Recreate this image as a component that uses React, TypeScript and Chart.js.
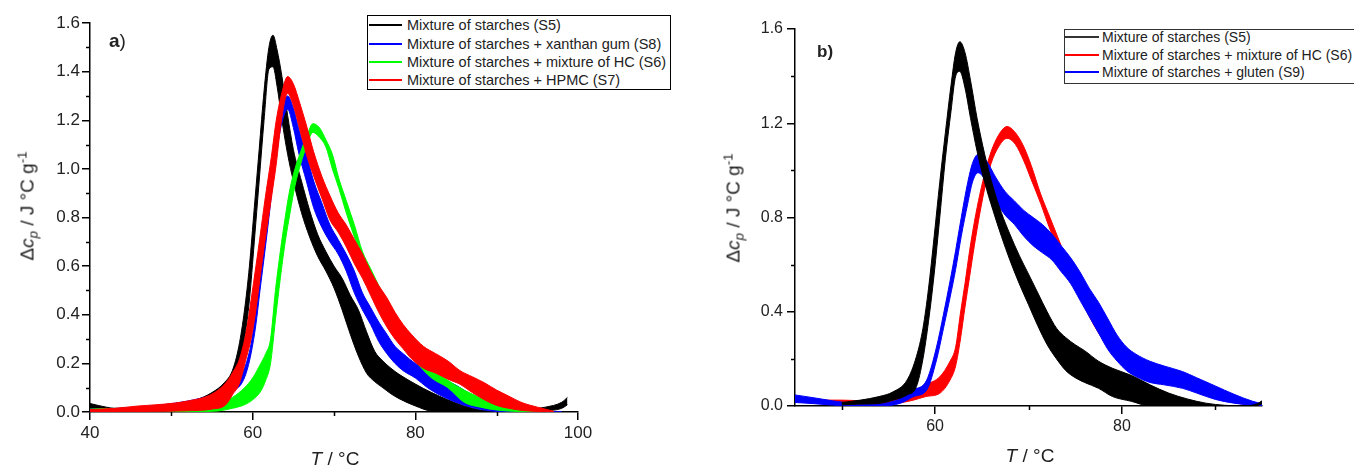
import React, { useEffect, useRef } from "react";
import { Chart, registerables } from "chart.js";

Chart.register(...registerables);

// ---------------- Panel a) data ----------------
const A_S5_T = [40, 42, 44, 47, 50, 53, 55, 56.5, 57.5, 58.3, 59, 59.6, 60.2, 60.8, 61.4, 62, 62.5, 63, 63.6, 64.3, 65, 66, 67, 68, 69, 70, 71, 72, 73, 74, 75, 76, 77, 78, 80, 82, 84, 86, 88, 90, 92, 94, 96, 98, 98.7];
const A_S5_HI = [0.035, 0.02, 0.012, 0.015, 0.03, 0.05, 0.08, 0.12, 0.17, 0.27, 0.42, 0.6, 0.84, 1.08, 1.32, 1.5, 1.55, 1.49, 1.38, 1.22, 1.08, 0.95, 0.83, 0.73, 0.66, 0.6, 0.55, 0.48, 0.42, 0.33, 0.25, 0.21, 0.18, 0.155, 0.115, 0.08, 0.05, 0.025, 0.008, 0.002, 0.002, 0.01, 0.02, 0.04, 0.06];
const A_S5_LO = [0.005, 0.005, 0.004, 0.008, 0.015, 0.03, 0.055, 0.085, 0.115, 0.17, 0.3, 0.46, 0.7, 0.95, 1.2, 1.41, 1.42, 1.34, 1.2, 1.06, 0.95, 0.82, 0.72, 0.64, 0.58, 0.51, 0.42, 0.32, 0.23, 0.16, 0.125, 0.1, 0.075, 0.055, 0.025, 0.003, 0, 0, 0, 0, 0, 0, 0.005, 0.015, 0.03];

const A_S8_T = [40, 43, 46, 49, 52, 55, 57, 58, 58.6, 59.2, 59.8, 60.4, 60.9, 61.5, 62, 62.5, 63, 63.6, 64.3, 65, 65.7, 66.6, 67.5, 68.5, 69.5, 70.5, 71.5, 72.5, 73.5, 74.5, 75.5, 76.5, 77.5, 78.5, 80, 81.5, 83, 85, 87, 89, 91, 93, 95, 98];
const A_S8_HI = [0.012, 0.015, 0.02, 0.03, 0.045, 0.07, 0.1, 0.12, 0.15, 0.2, 0.28, 0.42, 0.56, 0.72, 0.85, 1.0, 1.14, 1.25, 1.3, 1.25, 1.16, 1.06, 0.95, 0.86, 0.77, 0.71, 0.65, 0.58, 0.49, 0.43, 0.37, 0.32, 0.27, 0.24, 0.2, 0.175, 0.145, 0.11, 0.07, 0.04, 0.018, 0.008, 0.003, 0.0];
const A_S8_LO = [0.002, 0.005, 0.01, 0.015, 0.025, 0.045, 0.07, 0.095, 0.115, 0.16, 0.24, 0.36, 0.5, 0.66, 0.8, 0.95, 1.08, 1.19, 1.245, 1.17, 1.06, 0.95, 0.84, 0.76, 0.7, 0.65, 0.58, 0.49, 0.42, 0.36, 0.29, 0.24, 0.2, 0.17, 0.14, 0.1, 0.07, 0.04, 0.018, 0.006, 0, 0, 0, 0];

const A_S6_T = [40, 43, 46, 49, 52, 54, 55.7, 57.5, 59, 60, 61, 61.6, 62.2, 62.8, 63.4, 64, 64.6, 65.2, 65.9, 66.7, 67.4, 68.2, 69, 69.8, 70.6, 71.5, 72.5, 73.5, 74.5, 75.5, 76.5, 77.5, 78.5, 80, 82, 84, 86, 88, 90, 92, 94, 95.5];
const A_S6_HI = [0.012, 0.015, 0.015, 0.018, 0.02, 0.028, 0.038, 0.06, 0.1, 0.14, 0.2, 0.24, 0.3, 0.5, 0.66, 0.8, 0.92, 1.0, 1.07, 1.14, 1.186, 1.17, 1.12, 1.06, 0.96, 0.87, 0.77, 0.66, 0.59, 0.52, 0.45, 0.38, 0.32, 0.25, 0.18, 0.13, 0.09, 0.06, 0.045, 0.022, 0.008, 0];
const A_S6_LO = [0.004, 0.005, 0.005, 0.005, 0.0, 0.002, 0.004, 0.015, 0.03, 0.05, 0.086, 0.13, 0.2, 0.38, 0.55, 0.7, 0.82, 0.93, 1.02, 1.1, 1.15, 1.13, 1.09, 1.0, 0.92, 0.82, 0.72, 0.63, 0.55, 0.48, 0.41, 0.34, 0.28, 0.21, 0.14, 0.1, 0.04, 0.02, 0.008, 0.003, 0, 0];

const A_S7_T = [40, 43, 46, 49, 52, 55, 56.7, 57.5, 58.4, 59.2, 59.8, 60.4, 60.9, 61.5, 62.3, 62.9, 63.5, 64.3, 65, 65.8, 66.6, 67.5, 68.5, 69.5, 70.5, 71.5, 72.5, 73.5, 74.5, 75.5, 76.5, 77.5, 78.5, 79.5, 81, 82.5, 84, 85.5, 87, 88.5, 90, 91.5, 93, 95, 97];
const A_S7_HI = [0.01, 0.015, 0.025, 0.032, 0.045, 0.074, 0.12, 0.16, 0.22, 0.33, 0.46, 0.6, 0.72, 0.87, 1.05, 1.2, 1.3, 1.38, 1.35, 1.27, 1.18, 1.07, 0.97, 0.89, 0.82, 0.77, 0.71, 0.65, 0.58, 0.52, 0.47, 0.41, 0.36, 0.32, 0.27, 0.24, 0.21, 0.17, 0.145, 0.12, 0.09, 0.065, 0.04, 0.02, 0.003];
const A_S7_LO = [0, 0, 0.002, 0.003, 0.005, 0.012, 0.03, 0.07, 0.12, 0.22, 0.3, 0.42, 0.55, 0.7, 0.88, 1.02, 1.19, 1.31, 1.26, 1.16, 1.06, 0.97, 0.88, 0.79, 0.74, 0.68, 0.61, 0.55, 0.48, 0.41, 0.35, 0.3, 0.26, 0.22, 0.18, 0.16, 0.135, 0.114, 0.08, 0.05, 0.027, 0.015, 0.007, 0.002, 0];

// ---------------- Panel b) data ----------------
const B_S5_T = [50, 52, 54, 55.5, 57, 58, 58.7, 59.3, 59.9, 60.5, 61.1, 61.7, 62.2, 62.65, 63.2, 63.8, 64.5, 65.3, 66.2, 67.1, 68, 69, 70, 71, 72, 73, 74, 75, 76, 77.5, 79, 81, 83, 85, 87, 89, 91, 93, 94.5, 95];
const B_S5_HI = [0.015, 0.025, 0.04, 0.06, 0.11, 0.21, 0.33, 0.5, 0.72, 0.95, 1.16, 1.36, 1.5, 1.546, 1.5, 1.38, 1.22, 1.07, 0.93, 0.82, 0.73, 0.64, 0.56, 0.48, 0.4, 0.33, 0.29, 0.26, 0.235, 0.19, 0.16, 0.13, 0.09, 0.055, 0.03, 0.012, 0.003, 0.0, 0.01, 0.022];
const B_S5_LO = [0.005, 0.008, 0.011, 0.025, 0.047, 0.082, 0.2, 0.36, 0.56, 0.8, 1.05, 1.25, 1.4, 1.42, 1.35, 1.22, 1.08, 0.95, 0.83, 0.72, 0.62, 0.52, 0.43, 0.34, 0.26, 0.2, 0.15, 0.12, 0.1, 0.075, 0.04, 0.02, 0, 0, 0, 0, 0, 0, 0.002, 0.01];

const B_S6_T = [48, 50, 52, 53.5, 55, 56.5, 57.7, 59, 60.5, 61.6, 62.2, 62.7, 63.2, 63.7, 64.2, 64.8, 65.4, 66, 66.8, 67.7, 68.6, 69.5, 70.3, 71.3, 72.3, 73.5, 74.5, 75.5, 76.5, 77.5, 78.5, 79.5, 80.5, 82, 84, 86, 88, 90, 92, 94, 95];
const B_S6_HI = [0.025, 0.025, 0.022, 0.02, 0.03, 0.045, 0.06, 0.09, 0.124, 0.19, 0.25, 0.39, 0.52, 0.66, 0.78, 0.9, 1.0, 1.08, 1.15, 1.186, 1.16, 1.1, 1.02, 0.9, 0.8, 0.68, 0.58, 0.5, 0.42, 0.35, 0.29, 0.25, 0.22, 0.19, 0.17, 0.145, 0.11, 0.07, 0.04, 0.012, 0.005];
const B_S6_LO = [0.008, 0.006, 0.003, 0, 0.005, 0.015, 0.025, 0.04, 0.054, 0.11, 0.17, 0.28, 0.42, 0.55, 0.68, 0.82, 0.94, 1.03, 1.1, 1.136, 1.11, 1.04, 0.96, 0.86, 0.75, 0.64, 0.54, 0.46, 0.38, 0.31, 0.25, 0.2, 0.17, 0.14, 0.12, 0.1, 0.07, 0.04, 0.015, 0.003, 0];

const B_S9_T = [45, 47, 49, 51, 53, 55, 56.5, 57.7, 59.1, 60.15, 60.9, 61.6, 62.2, 62.8, 63.5, 64, 64.6, 65.5, 66.5, 67.5, 68.5, 69.5, 70.5, 71.5, 72.5, 73.5, 74.5, 75.5, 76.5, 77.5, 78.5, 79.5, 80.5, 81.5, 83, 84.5, 86.5, 88, 90, 92, 94, 95];
const B_S9_HI = [0.047, 0.035, 0.022, 0.012, 0.006, 0.015, 0.035, 0.068, 0.11, 0.25, 0.39, 0.53, 0.66, 0.8, 0.95, 1.03, 1.068, 1.04, 0.97, 0.91, 0.87, 0.83, 0.8, 0.77, 0.73, 0.68, 0.63, 0.57, 0.5, 0.44, 0.37, 0.3, 0.25, 0.22, 0.19, 0.17, 0.146, 0.12, 0.085, 0.05, 0.02, 0.01];
const B_S9_LO = [0.015, 0.01, 0.004, 0, 0, 0.002, 0.015, 0.04, 0.068, 0.195, 0.33, 0.46, 0.58, 0.72, 0.86, 0.95, 0.99, 0.95, 0.87, 0.81, 0.77, 0.72, 0.68, 0.65, 0.62, 0.57, 0.52, 0.45, 0.38, 0.31, 0.24, 0.19, 0.15, 0.125, 0.1, 0.09, 0.075, 0.055, 0.028, 0.012, 0.003, 0];

// ---------------- axes ----------------
const A_X_MAJOR = [40, 60, 80, 100];
const A_X_MINOR = [50, 70, 90];
const A_Y_MAJOR = [0, 0.2, 0.4, 0.6, 0.8, 1.0, 1.2, 1.4, 1.6];
const A_Y_MINOR = [0.1, 0.3, 0.5, 0.7, 0.9, 1.1, 1.3, 1.5];
const B_X_MAJOR = [60, 80];
const B_X_MINOR = [50, 70, 90];
const B_Y_MAJOR = [0, 0.4, 0.8, 1.2, 1.6];
const B_Y_MINOR = [0.2, 0.6, 1.0, 1.4];

const A_LEGEND = [
  { label: "Mixture of starches (S5)", color: "#000000" },
  { label: "Mixture of starches + xanthan gum (S8)", color: "#0000ff" },
  { label: "Mixture of starches + mixture of HC (S6)", color: "#00ff00" },
  { label: "Mixture of starches + HPMC (S7)", color: "#ff0000" },
];
const B_LEGEND = [
  { label: "Mixture of starches (S5)", color: "#333333" },
  { label: "Mixture of starches + mixture of HC (S6)", color: "#ff0000" },
  { label: "Mixture of starches + gluten (S9)", color: "#0000ff" },
];

const FONT = '"Liberation Sans", Arial, Helvetica, sans-serif';
const TEXT = "#222";

type Band = { T: number[]; hi: number[]; lo: number[]; color: string; layer: number };

const A_BANDS: Band[] = [
  { T: A_S5_T, hi: A_S5_HI, lo: A_S5_LO, color: "#000000", layer: 0 },
  { T: A_S8_T, hi: A_S8_HI, lo: A_S8_LO, color: "#0000ff", layer: 1 },
  { T: A_S6_T, hi: A_S6_HI, lo: A_S6_LO, color: "#00ff00", layer: 2 },
  { T: A_S7_T, hi: A_S7_HI, lo: A_S7_LO, color: "#ff0000", layer: 3 },
];
const B_BANDS: Band[] = [
  { T: B_S6_T, hi: B_S6_HI, lo: B_S6_LO, color: "#ff0000", layer: 0 },
  { T: B_S9_T, hi: B_S9_HI, lo: B_S9_LO, color: "#0000ff", layer: 1 },
  { T: B_S5_T, hi: B_S5_HI, lo: B_S5_LO, color: "#000000", layer: 2 },
];

function bandDatasets(bands: Band[]) {
  const ds: any[] = [];
  bands.forEach((b) => {
    const base = {
      borderColor: b.color,
      borderWidth: 1,
      pointRadius: 0,
      pointHoverRadius: 0,
      cubicInterpolationMode: "monotone",
      order: 20 - b.layer,
    };
    ds.push({ ...base, data: b.T.map((t, i) => ({ x: t, y: b.hi[i] })), fill: false });
    ds.push({
      ...base,
      data: b.T.map((t, i) => ({ x: t, y: b.lo[i] })),
      fill: "-1",
      backgroundColor: b.color,
    });
  });
  return ds;
}

const minorTicksPlugin = {
  id: "minorTicks",
  afterDraw(chart: any, _args: any, opts: any) {
    const { ctx } = chart;
    const xs = chart.scales.x;
    const ys = chart.scales.y;
    ctx.save();
    ctx.strokeStyle = "#000";
    ctx.lineWidth = 1.5;
    ctx.beginPath();
    (opts.x || []).forEach((v: number) => {
      const px = Math.round(xs.getPixelForValue(v)) + 0.5;
      ctx.moveTo(px, ys.bottom);
      ctx.lineTo(px, ys.bottom + opts.len);
    });
    (opts.y || []).forEach((v: number) => {
      const py = Math.round(ys.getPixelForValue(v)) + 0.5;
      ctx.moveTo(xs.left, py);
      ctx.lineTo(xs.left - opts.len, py);
    });
    ctx.stroke();
    ctx.restore();
  },
};

type PanelCfg = {
  width: number;
  height: number;
  area: { left: number; top: number; right: number; bottom: number };
  xMin: number;
  xMax: number;
  xMajor: number[];
  xMinor: number[];
  yMajor: number[];
  yMinor: number[];
  bands: Band[];
  tickSize: number;
  xPad: number;
  yPad: number;
};

function PanelChart({ cfg, left }: { cfg: PanelCfg; left: number }) {
  const ref = useRef<HTMLCanvasElement | null>(null);
  useEffect(() => {
    if (!ref.current) return;
    const { area } = cfg;
    const chart = new Chart(ref.current, {
      type: "line",
      data: { datasets: bandDatasets(cfg.bands) },
      plugins: [minorTicksPlugin as any],
      options: {
        responsive: false,
        animation: false,
        devicePixelRatio: 1,
        events: [],
        layout: { padding: { left: 0, top: area.top, right: cfg.width - area.right, bottom: 0 } },
        plugins: {
          legend: { display: false },
          tooltip: { enabled: false },
          minorTicks: { x: cfg.xMinor, y: cfg.yMinor, len: 4 },
        } as any,
        scales: {
          x: {
            type: "linear",
            min: cfg.xMin,
            max: cfg.xMax,
            afterFit: (s: any) => {
              s.height = cfg.height - area.bottom;
            },
            afterBuildTicks: (s: any) => {
              s.ticks = cfg.xMajor.map((v) => ({ value: v }));
            },
            ticks: {
              autoSkip: false,
              maxRotation: 0,
              padding: cfg.xPad,
              color: TEXT,
              font: { family: FONT, size: cfg.tickSize },
              callback: (v: any) => String(Math.round(Number(v))),
            },
            grid: { drawOnChartArea: false, drawTicks: true, tickLength: 8, color: "#000", lineWidth: 1.5 },
            border: { display: true, color: "#000", width: 1.5 },
          },
          y: {
            type: "linear",
            min: 0,
            max: 1.6,
            afterFit: (s: any) => {
              s.width = area.left;
            },
            afterBuildTicks: (s: any) => {
              s.ticks = cfg.yMajor.map((v) => ({ value: v }));
            },
            ticks: {
              autoSkip: false,
              padding: cfg.yPad,
              color: TEXT,
              font: { family: FONT, size: cfg.tickSize },
              callback: (v: any) => Number(v).toFixed(1),
            },
            grid: { drawOnChartArea: false, drawTicks: true, tickLength: 8, color: "#000", lineWidth: 1.5 },
            border: { display: true, color: "#000", width: 1.5 },
          },
        },
      } as any,
    });
    return () => chart.destroy();
  }, [cfg]);
  return (
    <canvas
      ref={ref}
      width={cfg.width}
      height={cfg.height}
      style={{ position: "absolute", left, top: 0, width: cfg.width, height: cfg.height }}
    />
  );
}

const A_CFG: PanelCfg = {
  width: 680,
  height: 470,
  area: { left: 90, top: 23, right: 578, bottom: 412 },
  xMin: 40,
  xMax: 100,
  xMajor: A_X_MAJOR,
  xMinor: A_X_MINOR,
  yMajor: A_Y_MAJOR,
  yMinor: A_Y_MINOR,
  bands: A_BANDS,
  tickSize: 17,
  xPad: 3,
  yPad: 2,
};

const B_CFG: PanelCfg = {
  width: 674,
  height: 470,
  area: { left: 115, top: 29, right: 582, bottom: 406 },
  xMin: 45,
  xMax: 95,
  xMajor: B_X_MAJOR,
  xMinor: B_X_MINOR,
  yMajor: B_Y_MAJOR,
  yMinor: B_Y_MINOR,
  bands: B_BANDS,
  tickSize: 16,
  xPad: 3,
  yPad: 4,
};

function YTitle({ cx, cy, size }: { cx: number; cy: number; size: number }) {
  return (
    <div
      style={{
        position: "absolute",
        left: cx,
        top: cy,
        transform: "translate(-50%, -50%) rotate(-90deg)",
        whiteSpace: "nowrap",
        fontSize: size,
        lineHeight: 1,
        color: TEXT,
      }}
    >
      Δ<i>c</i>
      <span style={{ fontSize: "0.7em", position: "relative", top: "0.3em" }}>
        <i>p</i>
      </span>{" "}
      / J °C g
      <span style={{ fontSize: "0.7em", position: "relative", top: "-0.55em" }}>-1</span>
    </div>
  );
}

function XTitle({ cx, cy, size }: { cx: number; cy: number; size: number }) {
  return (
    <div
      style={{
        position: "absolute",
        left: cx,
        top: cy,
        transform: "translate(-50%, -50%)",
        whiteSpace: "nowrap",
        fontSize: size,
        lineHeight: 1,
        color: TEXT,
      }}
    >
      <i>T</i> / °C
    </div>
  );
}

function Legend({
  box,
  rowsY,
  lineX0,
  lineX1,
  textX,
  fontSize,
  items,
  border,
}: {
  box: { left: number; top: number; width: number; height: number };
  rowsY: number[];
  lineX0: number;
  lineX1: number;
  textX: number;
  fontSize: number;
  items: { label: string; color: string }[];
  border: string;
}) {
  return (
    <>
      <div
        style={{
          position: "absolute",
          left: box.left,
          top: box.top,
          width: box.width,
          height: box.height,
          border: `1.5px solid ${border}`,
          boxSizing: "border-box",
          background: "#fff",
        }}
      />
      {items.map((it, i) => (
        <React.Fragment key={i}>
          <div
            style={{
              position: "absolute",
              left: lineX0,
              top: Math.round(rowsY[i]) - 1,
              width: lineX1 - lineX0,
              height: 2,
              background: it.color,
            }}
          />
          <div
            style={{
              position: "absolute",
              left: textX,
              top: rowsY[i],
              transform: "translateY(-50%)",
              fontSize,
              lineHeight: 1,
              whiteSpace: "nowrap",
              color: TEXT,
            }}
          >
            {it.label}
          </div>
        </React.Fragment>
      ))}
    </>
  );
}

export default function App() {
  useEffect(() => {
    document.body.style.margin = "0";
  }, []);
  return (
    <div
      style={{
        position: "absolute",
        left: 0,
        top: 0,
        width: 1354,
        height: 470,
        overflow: "hidden",
        background: "#fff",
        fontFamily: FONT,
      }}
    >
      <PanelChart cfg={A_CFG} left={0} />
      <PanelChart cfg={B_CFG} left={680} />

      {/* panel a annotations */}
      <div style={{ position: "absolute", left: 109, top: 40, transform: "translateY(-50%)", fontSize: 19, lineHeight: 1, color: TEXT }}>
        <b>a</b>)
      </div>
      <YTitle cx={27} cy={206} size={19} />
      <XTitle cx={335} cy={458} size={19} />
      <Legend
        box={{ left: 367, top: 15, width: 304, height: 75 }}
        rowsY={[25, 43.5, 62, 80]}
        lineX0={369}
        lineX1={402}
        textX={407}
        fontSize={14.5}
        items={A_LEGEND}
        border="#000"
      />

      {/* panel b annotations */}
      <div style={{ position: "absolute", left: 817, top: 51, transform: "translateY(-50%)", fontSize: 17, lineHeight: 1, fontWeight: "bold", color: TEXT }}>
        b)
      </div>
      <YTitle cx={733} cy={208} size={19} />
      <XTitle cx={1030} cy={455} size={19} />
      <Legend
        box={{ left: 1064, top: 29, width: 300, height: 55 }}
        rowsY={[37, 55, 72]}
        lineX0={1065}
        lineX1={1099}
        textX={1102}
        fontSize={14}
        items={B_LEGEND}
        border="#333"
      />
    </div>
  );
}
